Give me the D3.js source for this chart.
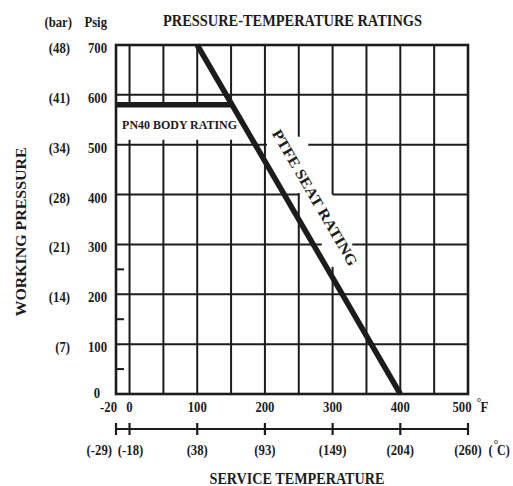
<!DOCTYPE html>
<html><head><meta charset="utf-8">
<script src="https://cdn.jsdelivr.net/npm/d3@7"></script>
<style>body{margin:0;background:#fff}svg{display:block}</style>
</head><body>
<svg id="c" width="513" height="486"></svg>
<script>
// ---- data ----
const tempTicksF = [-20, 0, 100, 200, 300, 400, 500];
const tempLabelsF = ["-20", "0", "100", "200", "300", "400", "500"];
const tempLabelsC = ["(-29)", "(-18)", "(38)", "(93)", "(149)", "(204)", "(260)"];
const pressureTicks = [0, 100, 200, 300, 400, 500, 600, 700];
const pressureLabels = ["0", "100", "200", "300", "400", "500", "600", "700"];
const barLabels = ["", "(7)", "(14)", "(21)", "(28)", "(34)", "(41)", "(48)"];
const minorPressureTicks = [50, 150, 250];
const gridTemps = [0, 50, 100, 150, 200, 250, 300, 350, 400, 450];
const gridPressures = [100, 200, 300, 400, 500, 600];
const ptfeTemp = [100, 400];
const ptfePressure = [700, 0];
const bodyTemp = [-20, 151.4];
const bodyPressure = [580, 580];
// breaks in the grid lines left around the labels (data units)
const vGapTemp = [0, 50, 100, 150, 250, 300];
const vGapFrom = [510, 510, 510, 510, 403, 255];
const vGapTo = [580, 580, 580, 580, 516, 400];
const hGapPressure = [500, 400, 300];
const hGapFrom = [203, 250, 284];
const hGapTo = [264, 300, 329];
const ptfeLabelAt = [274, 394];
const bodyLabelAt = [-11, 541];

// ---- scales ----
const svg = d3.select("#c");
const x = d3.scaleLinear().domain([-20, 500]).range([116, 468]);
const y = d3.scaleLinear().domain([0, 700]).range([394, 45]);
const FONT = "'Liberation Serif','Times New Roman',serif";
const ink = "#1c1c1c";

function condense(sel, f) {
  sel.each(function () {
    const L = this.getComputedTextLength();
    d3.select(this).attr("textLength", L * f).attr("lengthAdjust", "spacingAndGlyphs");
  });
}
function splitSegments(a0, a1, gaps) {
  const segs = [];
  let start = a0;
  gaps.sort((g, h) => g[0] - h[0]).forEach(g => { segs.push([start, g[0]]); start = g[1]; });
  segs.push([start, a1]);
  return segs;
}

// ---- grid ----
const grid = svg.append("g").attr("stroke", ink).attr("stroke-width", 2);
gridTemps.forEach(t => {
  const gaps = [];
  vGapTemp.forEach((gt, i) => { if (gt === t) gaps.push([vGapFrom[i], vGapTo[i]]); });
  splitSegments(0, 700, gaps).forEach(s => {
    grid.append("line").attr("x1", x(t)).attr("x2", x(t)).attr("y1", y(s[0])).attr("y2", y(s[1]));
  });
});
gridPressures.forEach(p => {
  const gaps = [];
  hGapPressure.forEach((gp, i) => { if (gp === p) gaps.push([hGapFrom[i], hGapTo[i]]); });
  splitSegments(-20, 500, gaps).forEach(s => {
    grid.append("line").attr("y1", y(p)).attr("y2", y(p)).attr("x1", x(s[0])).attr("x2", x(s[1]));
  });
});
minorPressureTicks.forEach(p => {
  grid.append("line").attr("x1", x(-20)).attr("x2", x(-20) + 8).attr("y1", y(p)).attr("y2", y(p));
});

// frame
svg.append("rect").attr("x", x(-20)).attr("y", y(700)).attr("width", x(500) - x(-20)).attr("height", y(0) - y(700))
  .attr("fill", "none").attr("stroke", ink).attr("stroke-width", 2.6);

// ---- rating lines ----
const line = d3.line().x(d => x(d[0])).y(d => y(d[1]));
svg.append("path").datum(ptfeTemp.map((t, i) => [t, ptfePressure[i]])).attr("d", line)
  .attr("fill", "none").attr("stroke", ink).attr("stroke-width", 5.5);
svg.append("path").datum(bodyTemp.map((t, i) => [t, bodyPressure[i]])).attr("d", line)
  .attr("fill", "none").attr("stroke", ink).attr("stroke-width", 5.5);

// ---- text ----
const txt = svg.append("g").attr("font-family", FONT).attr("font-weight", "bold").attr("fill", ink);

// pressure labels
const pl = txt.selectAll("text.p").data(pressureTicks).join("text")
  .attr("x", d => d === 0 ? 100 : 107).attr("y", d => y(d) + (d === 0 ? 4 : 8))
  .attr("text-anchor", "end").attr("font-size", 15.5).text((d, i) => pressureLabels[i]);
condense(pl, 0.82);
const bl = txt.selectAll("text.b").data(pressureTicks.filter((d, i) => barLabels[i])).join("text")
  .attr("x", 70).attr("y", d => y(d) + 8)
  .attr("text-anchor", "end").attr("font-size", 15.5).text(d => barLabels[pressureTicks.indexOf(d)]);
condense(bl, 0.82);
condense(txt.append("text").attr("x", 72).attr("y", 27).attr("text-anchor", "end").attr("font-size", 15.5).text("(bar)"), 0.82);
condense(txt.append("text").attr("x", 107).attr("y", 27).attr("text-anchor", "end").attr("font-size", 15.5).text("Psig"), 0.82);

// title
txt.append("text").attr("x", 163).attr("y", 26).attr("font-size", 16).attr("textLength", 259)
  .attr("lengthAdjust", "spacingAndGlyphs").text("PRESSURE-TEMPERATURE RATINGS");

// Fahrenheit labels
const fl = txt.selectAll("text.f").data(tempTicksF.filter(t => t !== -20)).join("text")
  .attr("x", d => d === 500 ? x(d) - 6 : x(d)).attr("y", 412)
  .attr("text-anchor", "middle").attr("font-size", 15.5).text(d => tempLabelsF[tempTicksF.indexOf(d)]);
condense(fl, 0.82);
condense(txt.append("text").attr("x", x(-20) + 1).attr("y", 412).attr("text-anchor", "end").attr("font-size", 15.5).text(tempLabelsF[0]), 0.82);
txt.append("text").attr("x", 476.5).attr("y", 406).attr("font-size", 12).attr("font-weight", "normal").text("°");
condense(txt.append("text").attr("x", 480.5).attr("y", 412).attr("font-size", 15.5).text("F"), 0.82);

// Celsius axis
const cax = svg.append("g").attr("stroke", ink).attr("stroke-width", 2.2);
cax.append("line").attr("x1", x(-20)).attr("x2", x(500)).attr("y1", 429).attr("y2", 429);
tempTicksF.forEach(t => cax.append("line").attr("x1", x(t)).attr("x2", x(t)).attr("y1", 423).attr("y2", 435));
const cl = txt.selectAll("text.c").data(tempTicksF.filter(t => t !== -20)).join("text")
  .attr("x", d => d === 0 ? x(d) + 1 : x(d)).attr("y", 455)
  .attr("text-anchor", "middle").attr("font-size", 15.5).text(d => tempLabelsC[tempTicksF.indexOf(d)]);
condense(cl, 0.82);
condense(txt.append("text").attr("x", x(-20) - 4).attr("y", 455).attr("text-anchor", "end").attr("font-size", 15.5).text(tempLabelsC[0]), 0.82);
condense(txt.append("text").attr("x", 488.5).attr("y", 455).attr("font-size", 15.5).text("("), 0.82);
txt.append("text").attr("x", 493.5).attr("y", 448).attr("font-size", 12).attr("font-weight", "normal").text("°");
condense(txt.append("text").attr("x", 497).attr("y", 455).attr("font-size", 15.5).text("C)"), 0.78);

// axis titles
txt.append("text").attr("x", 297).attr("y", 483.5).attr("text-anchor", "middle").attr("font-size", 16)
  .attr("textLength", 175).attr("lengthAdjust", "spacingAndGlyphs").text("SERVICE TEMPERATURE");
txt.append("text").attr("transform", "translate(25.5,232) rotate(-90)").attr("text-anchor", "middle").attr("font-size", 15.5)
  .attr("textLength", 169).attr("lengthAdjust", "spacingAndGlyphs").text("WORKING PRESSURE");

// line labels
txt.append("text").attr("x", x(bodyLabelAt[0])).attr("y", y(bodyLabelAt[1]) + 5).attr("font-size", 13.5)
  .attr("textLength", 115).attr("lengthAdjust", "spacingAndGlyphs").text("PN40 BODY RATING");
const ang = Math.atan2(y(ptfePressure[1]) - y(ptfePressure[0]), x(ptfeTemp[1]) - x(ptfeTemp[0])) * 180 / Math.PI;
txt.append("text").attr("transform", `translate(${x(ptfeLabelAt[0])},${y(ptfeLabelAt[1])}) rotate(${ang})`)
  .attr("text-anchor", "middle").attr("dy", "0.35em").attr("font-size", 15)
  .attr("textLength", 155).attr("lengthAdjust", "spacingAndGlyphs").text("PTFE SEAT RATING");
</script>
</body></html>
